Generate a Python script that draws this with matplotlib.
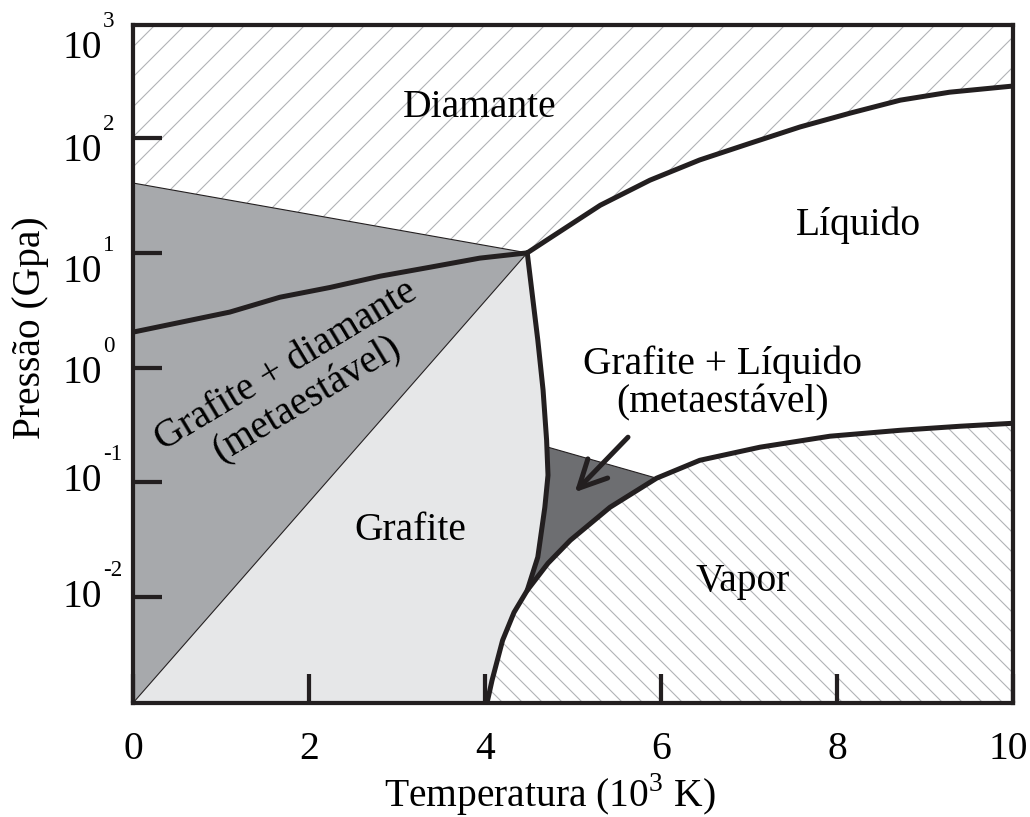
import matplotlib
matplotlib.use("Agg")
import matplotlib.pyplot as plt
import matplotlib.transforms as mtransforms
from matplotlib.ticker import NullLocator

DPI = 180
PX = 72 / DPI  # points per pixel

plt.rcParams["font.family"] = ["Liberation Serif", "DejaVu Serif"]
plt.rcParams["mathtext.fontset"] = "custom"
plt.rcParams["mathtext.rm"] = "Liberation Serif"
plt.rcParams["hatch.linewidth"] = 1.1 * PX

# axis range (T in 10^3 K, P in GPa)
t_lim = (0, 10)
p_lim = (0.0012, 966)

# triple point graphite / diamond / liquid
triple_T, triple_P = 4.48, 10.0

# graphite-diamond equilibrium (thick)
gd_T = [0.0, 1.10, 1.67, 2.24, 2.81, 3.375, 3.94, 4.48]
gd_P = [2.04, 3.05, 4.11, 5.0, 6.27, 7.5, 9.0, 10.0]

# metastable diamond limit (thin) and graphite metastable limit (thin)
dlim_T = [0.0, 4.48]
dlim_P = [40.6, 10.0]
diag_T = [0.0, 4.48]
diag_P = [0.0012, 10.0]

# diamond-liquid line (thick)
dl_T = [4.48, 4.74, 5.31, 5.875, 6.44, 7.01, 7.58, 8.15, 8.72, 9.28, 10.0]
dl_P = [10.0, 13.5, 26, 43, 64.5, 90, 125, 165, 214, 251, 284]

# graphite melting line (thick)
melt_T = [4.48, 4.545, 4.60, 4.66, 4.70, 4.716, 4.68, 4.60, 4.48]
melt_P = [10.0, 3.87, 1.74, 0.637, 0.234, 0.1156, 0.0608, 0.0224, 0.0115]

# sublimation / vaporization line (thick)
vap_T = [4.0, 4.08, 4.20, 4.33, 4.48, 4.716, 4.97, 5.42, 5.95, 6.44, 7.125,
         7.92, 8.72, 9.40, 10.0]
vap_P = [0.001, 0.00189, 0.00422, 0.00739, 0.0115, 0.0198, 0.0314, 0.0608,
         0.109, 0.156, 0.203, 0.253, 0.285, 0.309, 0.328]

# graphite + liquid metastable pocket
pocket_T = [4.716, 4.70, 4.68, 4.60, 4.48, 4.716, 4.97, 5.42, 5.95]
pocket_P = [0.203, 0.17, 0.0608, 0.0224, 0.0115, 0.0198, 0.0314, 0.0608, 0.109]

x_ticks = [0, 2, 4, 6, 8, 10]
x_ticklabels = ["0", "2", "4", "6", "8", "10"]
y_ticks = [1e-2, 1e-1, 1e0, 1e1, 1e2]
y_exponents = [3, 2, 1, 0, -1, -2]
y_label_shift = [25, 13, 20, 6, -1, 0]  # px below tick position

ink = "#231f20"
c_meta = "#a7a9ac"
c_graf = "#e6e7e8"
c_pocket = "#6d6e71"
c_hatch = "#b1b3b6"

fs = 39.5 * PX
thick = 5.0 * PX
thin = 1.1 * PX

fig = plt.figure(figsize=(1030 / DPI, 817 / DPI), dpi=DPI)
ax = fig.add_axes([133 / 1030, 1 - 703 / 817, 880 / 1030, 678 / 817])
ax.set_yscale("log")
ax.set_xlim(*t_lim)
ax.set_ylim(*p_lim)

top, bot = 1e4, 1e-4

# diamond region (hatched)
ax.fill([0] + dlim_T + dl_T + [10, 0], [top] + dlim_P + dl_P + [top, top],
        facecolor="white", edgecolor=c_hatch, hatch="//", linewidth=0, zorder=1)
# graphite + diamond metastable region
ax.fill([0, 0, triple_T], [p_lim[0], dlim_P[0], triple_P],
        facecolor=c_meta, linewidth=0, zorder=1)
# graphite region
ax.fill(diag_T + melt_T + vap_T[:5][::-1],
        diag_P + melt_P + vap_P[:5][::-1],
        facecolor=c_graf, linewidth=0, zorder=1)
# vapor region (hatched)
ax.fill(vap_T + [10, 4.0], vap_P + [bot, bot],
        facecolor="white", edgecolor=c_hatch, hatch="\\\\\\", linewidth=0,
        zorder=1)
# metastable pocket
ax.fill(pocket_T, pocket_P, facecolor=c_pocket, linewidth=0, zorder=2)

# thin lines
ax.plot(dlim_T, dlim_P, color=ink, lw=thin, zorder=3)
ax.plot(diag_T, diag_P, color=ink, lw=thin, zorder=3)
ax.plot([pocket_T[0], pocket_T[-1]], [pocket_P[0], pocket_P[-1]],
        color=ink, lw=thin, zorder=3)

# thick lines
for xs, ys in [(gd_T, gd_P), (dl_T, dl_P), (melt_T, melt_P), (vap_T, vap_P)]:
    ax.plot(xs, ys, color=ink, lw=thick, zorder=4, solid_capstyle="round",
            solid_joinstyle="round")

# region labels
ax.text(3.94, 186, "Diamante", fontsize=fs, ha="center", va="center", zorder=5)
ax.text(8.24, 17.5, "Líquido", fontsize=fs, ha="center", va="center", zorder=5)
ax.text(1.86, 0.74, "Grafite + diamante\n(metaestável)", fontsize=fs,
        ha="center", va="center", rotation=31, linespacing=1.1, zorder=5,
        rotation_mode="anchor")
ax.text(6.7, 0.733, "Grafite + Líquido\n(metaestável)", fontsize=fs,
        ha="center", va="center", linespacing=1.05, zorder=5)
ax.text(3.15, 0.0384, "Grafite", fontsize=fs, ha="center", va="center", zorder=5)
ax.text(6.93, 0.0138, "Vapor", fontsize=fs, ha="center", va="center", zorder=5)

ax.annotate("", xy=(5.02, 0.0822), xytext=(5.625, 0.248), zorder=5,
            arrowprops=dict(arrowstyle="->,head_length=1.1,head_width=0.55",
                            color=ink, lw=thick, shrinkA=0, shrinkB=0,
                            mutation_scale=25 * PX))

# axes styling
for s in ax.spines.values():
    s.set_linewidth(4.2 * PX)
    s.set_color(ink)
    s.set_zorder(6)
ax.set_xticks(x_ticks)
ax.set_xticklabels(x_ticklabels, fontsize=fs)
ax.set_yticks(y_ticks)
ax.set_yticklabels([])
ax.yaxis.set_minor_locator(NullLocator())
ax.tick_params(direction="in", length=29 * PX, width=4.2 * PX, color=ink,
               pad=28 * PX)
ax.tick_params(axis="y", pad=0)

# keep the last x label inside the canvas
last = ax.get_xticklabels()[-1]
last.set_transform(last.get_transform() +
                   mtransforms.ScaledTranslation(-5 / DPI, 0, fig.dpi_scale_trans))

for e, shift in zip(y_exponents, y_label_shift):
    ax.annotate("10", xy=(0, 10.0 ** e), xycoords=("axes fraction", "data"),
                xytext=(-31 * PX, -shift * PX), textcoords="offset points",
                fontsize=fs, ha="right", va="center", annotation_clip=False)
    ax.annotate(str(e), xy=(0, 10.0 ** e), xycoords=("axes fraction", "data"),
                xytext=(-30 * PX, (-shift + 27) * PX), textcoords="offset points",
                fontsize=23 * PX, ha="left", va="center", annotation_clip=False)

fig.text(31 / 1030, 1 - 328 / 817, "Pressão (Gpa)", fontsize=fs,
         rotation=90, ha="center", va="center")
fig.text(550 / 1030, 1 - 795 / 817, "Temperatura (10$^{3}$ K)", fontsize=fs,
         ha="center", va="center")

fig.savefig("out.png", dpi=DPI)
